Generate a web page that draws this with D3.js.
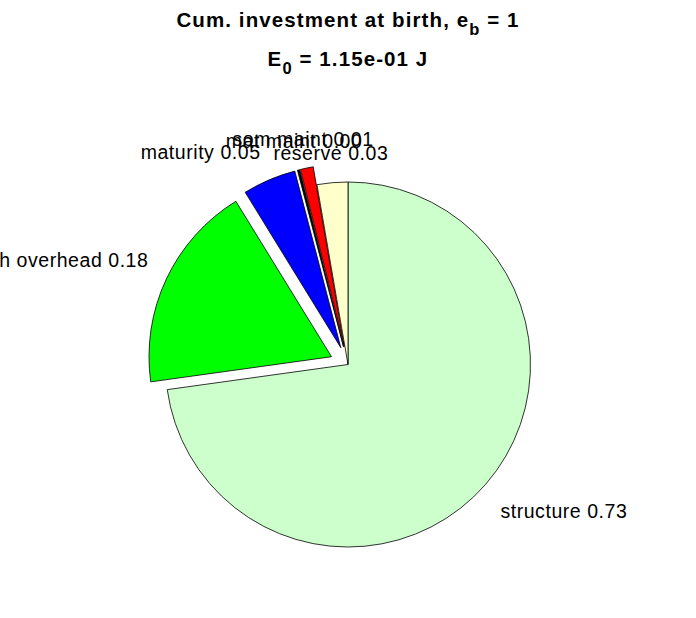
<!DOCTYPE html>
<html>
<head>
<meta charset="utf-8">
<script src="https://cdn.jsdelivr.net/npm/d3@7"></script>
<style>
  html, body { margin: 0; padding: 0; background: #fff; }
  svg { display: block; }
  text { font-family: Arial, "Liberation Sans", Helvetica, sans-serif; fill: #000; }
</style>
</head>
<body>
<svg id="chart" width="696" height="618"></svg>
<script>
// ---- data ----
const categories = ["structure", "growth overhead", "maturity", "mat maint", "som maint", "reserve"];
const values     = [0.728, 0.1842, 0.0472, 0.002, 0.0114, 0.0272];
const exploded   = [false, true, true, true, true, false];
const colors     = ["#ccffcc", "#00ff00", "#0000ff", "#000000", "#ff0000", "#ffffcc"];
const titleLine1 = { main: "Cum. investment at birth, e", sub: "b", rest: " = 1" };
const titleLine2 = { main: "E", sub: "0", rest: " = 1.15e-01 J" };

// ---- layout ----
const W = 696, H = 618;
const cx = 348, cy = 364.5, R = 182.5;
const explodeOff = 0.1 * R;
const labelR = 1.1 * R;

const svg = d3.select("#chart");
const total = d3.sum(values);
const fmt = d3.format(".2f");

const pie = d3.pie().sort(null).value(d => d.v).startAngle(0).endAngle(2 * Math.PI);
const arcs = pie(values.map((v, i) => ({ v, i })));
const arc = d3.arc().innerRadius(0).outerRadius(R);

const g = svg.append("g").attr("transform", `translate(${cx},${cy})`);

arcs.forEach(a => {
  const i = a.data.i;
  const mid = (a.startAngle + a.endAngle) / 2;
  const off = exploded[i] ? explodeOff : 0;
  const ox = Math.sin(mid) * off, oy = -Math.cos(mid) * off;
  g.append("path")
    .attr("d", arc(a))
    .attr("transform", `translate(${ox},${oy})`)
    .attr("fill", colors[i])
    .attr("stroke", "#000")
    .attr("stroke-width", 0.8)
    .attr("stroke-linejoin", "miter");
});

// labels
arcs.forEach(a => {
  const i = a.data.i;
  const mid = (a.startAngle + a.endAngle) / 2;
  const off = exploded[i] ? explodeOff : 0;
  const sx = Math.sin(mid), sy = -Math.cos(mid);
  const px = sx * (off + labelR), py = sy * (off + labelR);
  let anchor = "middle", dx = 0;
  if (sx > 0.3) { anchor = "start"; dx = 1; }
  else if (sx < -0.3) { anchor = "end"; dx = -1.5; }
  const baseY = sy < 0 ? py - 4.5 : py + 22;
  g.append("text")
    .attr("x", px + dx)
    .attr("y", baseY)
    .attr("text-anchor", anchor)
    .style("font-size", "19.5px")
    .style("letter-spacing", "0.55px")
    .text(categories[i] + " " + fmt(values[i] / total));
});

// title
function titleLine(obj, y) {
  const t = svg.append("text")
    .attr("x", W / 2)
    .attr("y", y)
    .attr("text-anchor", "middle")
    .style("font-size", "20.5px")
    .style("font-weight", "bold")
    .style("letter-spacing", "1.1px");
  t.append("tspan").text(obj.main);
  t.append("tspan").attr("dy", 7.5).style("font-size", "16.5px").text(obj.sub);
  t.append("tspan").attr("dy", -7.5).text(obj.rest);
}
titleLine(titleLine1, 27);
titleLine(titleLine2, 66);
</script>
</body>
</html>
